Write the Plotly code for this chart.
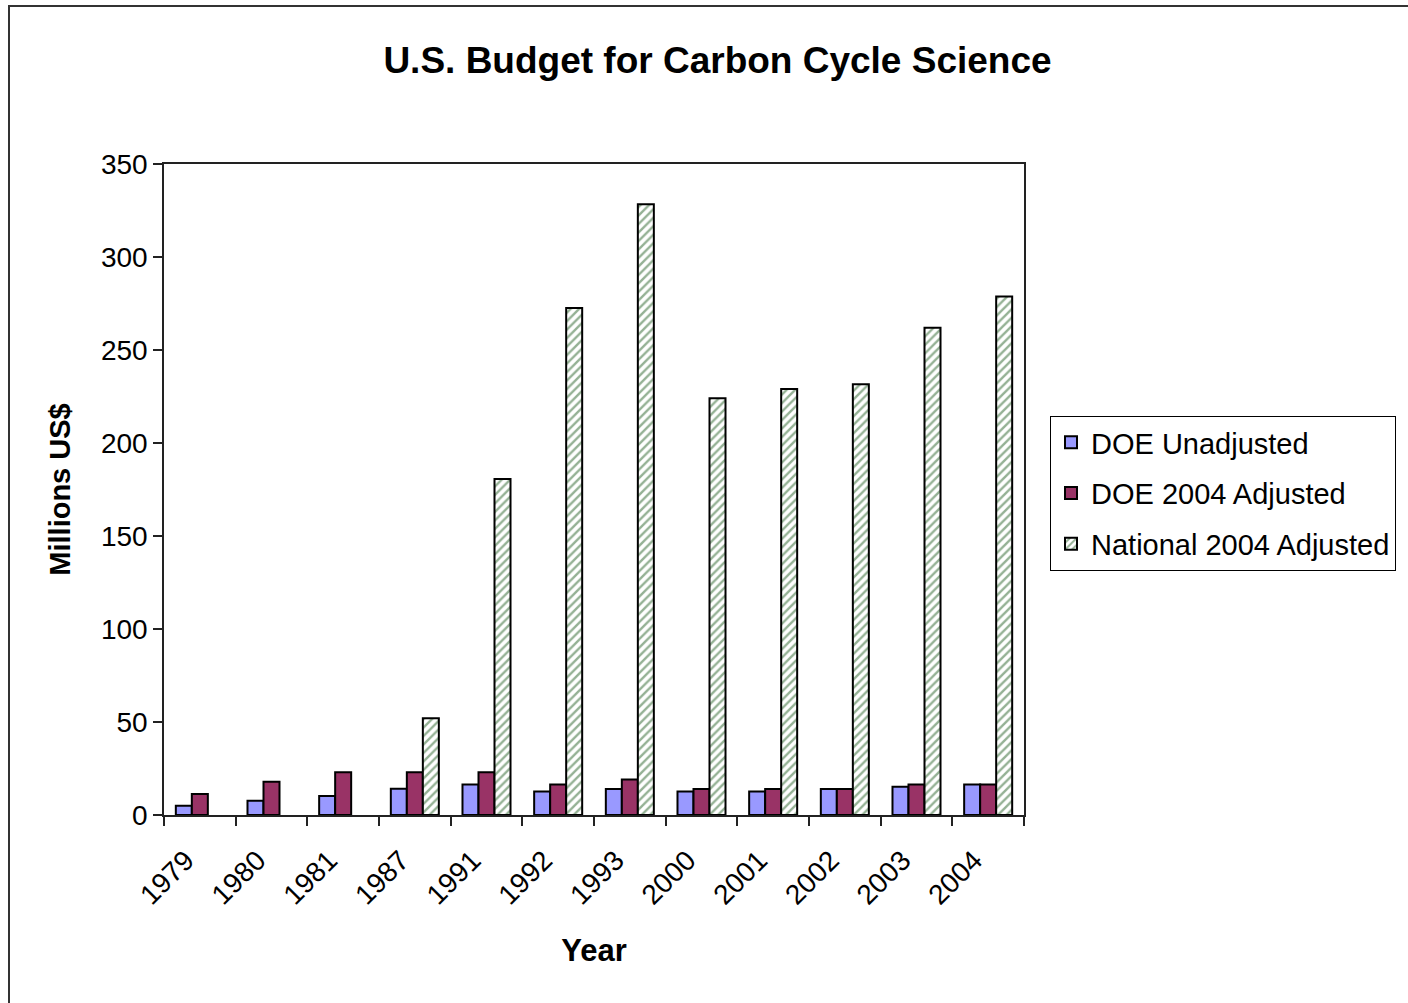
import plotly.graph_objects as go

years = ["1979", "1980", "1981", "1987", "1991", "1992", "1993", "2000", "2001", "2002", "2003", "2004"]
doe_unadjusted = [5.0, 7.7, 10.2, 14.1, 16.4, 12.7, 14.0, 12.7, 12.7, 14.0, 15.2, 16.4]
doe_2004_adjusted = [11.3, 17.9, 23.0, 23.0, 23.0, 16.4, 19.1, 14.0, 14.0, 14.0, 16.4, 16.4]
national_2004_adjusted = [None, None, None, 52.0, 180.7, 272.6, 328.3, 224.0, 229.0, 231.6, 262.0, 278.7]

FONT = "Liberation Sans, Arial, sans-serif"

fig = go.Figure()
fig.add_trace(go.Bar(
    x=years, y=doe_unadjusted, name="DOE Unadjusted", legendgroup="a",
    marker=dict(color="#9999FF", line=dict(color="black", width=2)),
))
fig.add_trace(go.Bar(
    x=years, y=doe_2004_adjusted, name="DOE 2004 Adjusted", legendgroup="b",
    marker=dict(color="#993366", line=dict(color="black", width=2)),
))
fig.add_trace(go.Bar(
    x=years, y=national_2004_adjusted, name="National 2004 Adjusted", legendgroup="c",
    marker=dict(color="white", line=dict(color="black", width=2),
                pattern=dict(shape="/", fgcolor="#2A632A", bgcolor="white", size=6, solidity=0.4)),
))

L, R, T, B = 164, 384, 164, 188
W, H = 1408, 1003
pw = W - L - R
ph = H - T - B

def px2x(px):
    return (px - L) / pw

def py2y(py):
    return (H - B - py) / ph

fig.update_layout(
    width=W, height=H,
    margin=dict(l=L, r=R, t=T, b=B, pad=0),
    paper_bgcolor="white", plot_bgcolor="white",
    barmode="group", bargap=0.33, bargroupgap=0,
    font=dict(family=FONT, color="black", size=28),
    title=dict(text="<b>U.S. Budget for Carbon Cycle Science</b>",
               font=dict(size=37, family=FONT), x=(377 + 1058) / 2 / W, xanchor="center",
               y=1 - 60 / H, yanchor="middle"),
    legend=dict(
        x=px2x(1050), y=py2y(416), xanchor="left", yanchor="top",
        bordercolor="black", borderwidth=1, bgcolor="white",
        font=dict(size=29, family=FONT), tracegroupgap=10, traceorder="grouped",
    ),
    showlegend=True,
)

fig.update_xaxes(
    type="category",
    showline=True, linecolor="#222", linewidth=1.5, mirror=True,
    ticks="outside", tickson="boundaries", ticklen=9, tickcolor="#222", tickwidth=1.5,
    tickangle=-45, tickfont=dict(size=28, family=FONT),
    ticklabelstandoff=16, ticklabelshift=-14,
    showgrid=False,
    title=dict(text="<b>Year</b>", font=dict(size=31, family=FONT), standoff=30),
)
fig.update_yaxes(
    range=[0, 350], dtick=50,
    showline=True, linecolor="#222", linewidth=1.5, mirror=True,
    ticks="outside", ticklen=9, tickcolor="#222", tickwidth=1.5,
    tickfont=dict(size=28, family=FONT),
    showgrid=False, zeroline=False,
    title=dict(text="<b>Millions US$</b>", font=dict(size=29, family=FONT), standoff=22),
)

fig.add_shape(type="rect", xref="paper", yref="paper",
              x0=px2x(9), x1=px2x(1430), y0=py2y(1030), y1=py2y(6),
              line=dict(color="#333", width=2), fillcolor="rgba(0,0,0,0)", layer="below")

fig.write_html("out.html")
